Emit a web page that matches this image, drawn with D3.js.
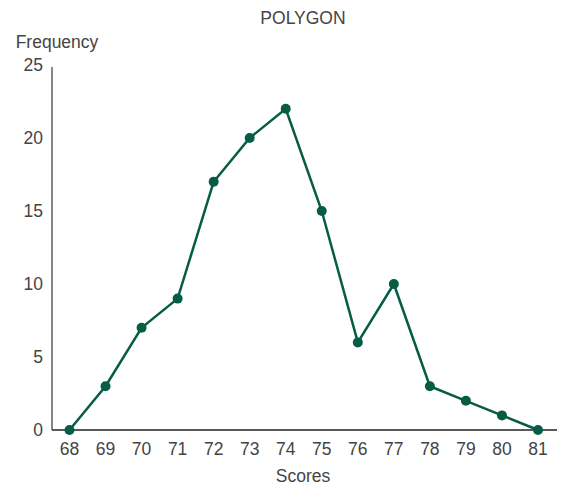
<!DOCTYPE html>
<html><head><meta charset="utf-8">
<script src="https://cdn.jsdelivr.net/npm/d3@7"></script>
<style>body{margin:0;background:#fff}text{font-family:"Liberation Sans",Helvetica,Arial,sans-serif;fill:#444}</style>
</head><body><svg id="c" width="565" height="485"></svg>
<script>
const scores = [68,69,70,71,72,73,74,75,76,77,78,79,80,81];
const frequency = [0,3,7,9,17,20,22,15,6,10,3,2,1,0];
const yTicks = [0,5,10,15,20,25];
const title = "POLYGON", xTitle = "Scores", yTitle = "Frequency";

const svg = d3.select("#c");
const x = d3.scaleLinear().domain([68,81]).range([69.5,538]);
const y = d3.scaleLinear().domain([0,25]).range([430,65]);
const color = "#075c45";
const fs = 17.5;

svg.append("line").attr("x1",52).attr("x2",52).attr("y1",67).attr("y2",430).attr("stroke","#444").attr("stroke-width",1.3);
svg.append("line").attr("x1",52).attr("x2",557).attr("y1",430).attr("y2",430).attr("stroke","#222").attr("stroke-width",1.3);

svg.selectAll(".yt").data(yTicks).join("text").attr("x",43).attr("y",d=>y(d)).attr("dy","0.35em")
  .attr("text-anchor","end").attr("font-size",fs).text(d=>d);
svg.selectAll(".xt").data(scores).join("text").attr("x",d=>x(d)).attr("y",449).attr("dy","0.35em")
  .attr("text-anchor","middle").attr("font-size",fs).text(d=>d);

svg.append("text").attr("x",303).attr("y",18).attr("dy","0.35em").attr("text-anchor","middle").attr("font-size",fs).text(title);
svg.append("text").attr("x",303).attr("y",476).attr("dy","0.35em").attr("text-anchor","middle").attr("font-size",fs).text(xTitle);
svg.append("text").attr("x",57).attr("y",42).attr("dy","0.35em").attr("text-anchor","middle").attr("font-size",fs).text(yTitle);

const data = scores.map((s,i)=>({s, f:frequency[i]}));
svg.append("path").datum(data).attr("fill","none").attr("stroke",color).attr("stroke-width",2.5)
  .attr("d", d3.line().x(d=>x(d.s)).y(d=>y(d.f)));
svg.selectAll(".pt").data(data).join("circle").attr("cx",d=>x(d.s)).attr("cy",d=>y(d.f)).attr("r",5).attr("fill",color);
</script></body></html>
